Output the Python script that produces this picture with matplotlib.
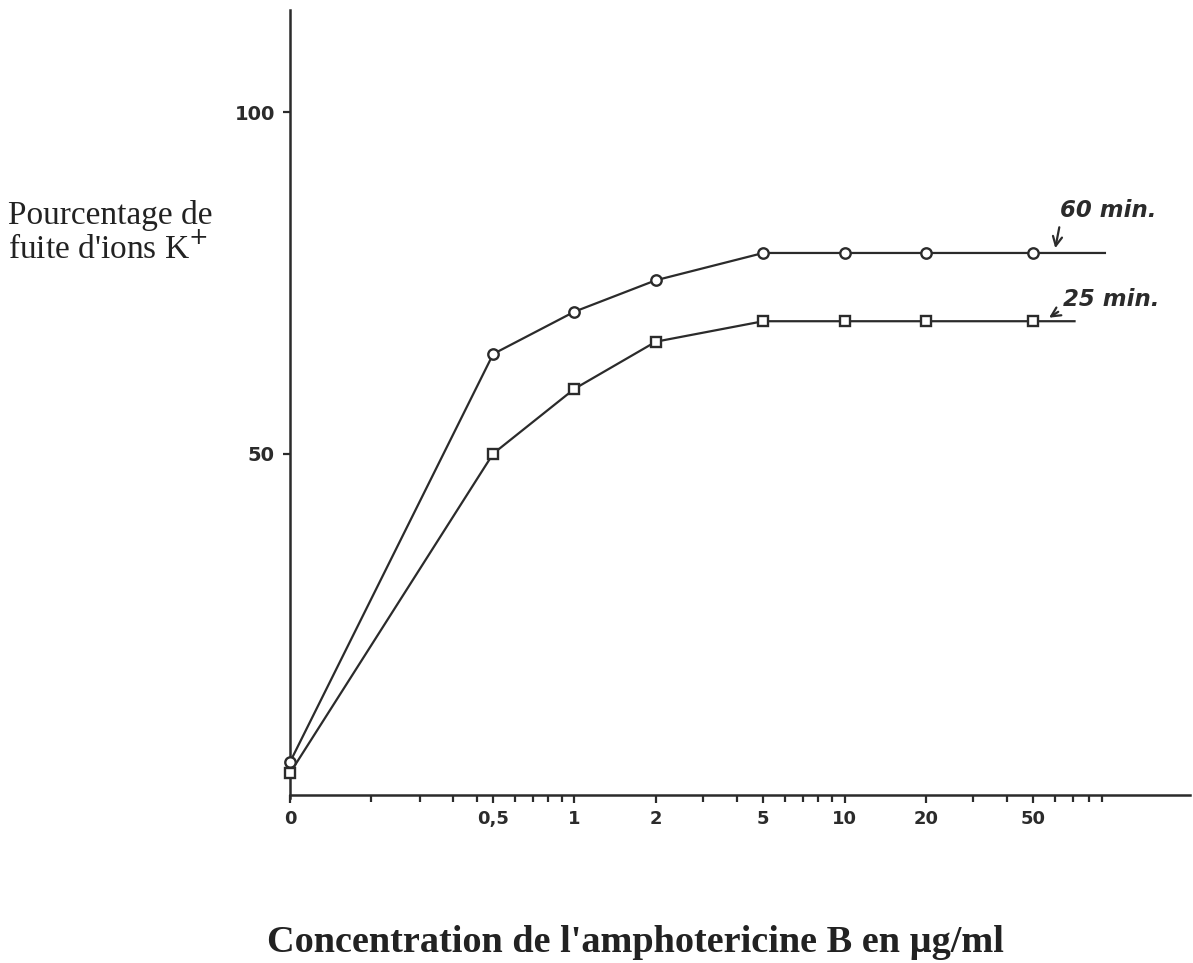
import numpy as np
import matplotlib
matplotlib.use('Agg')
import matplotlib.pyplot as plt

# concentration d'amphotericine B (ug/ml) et % de fuite K+
conc = [0, 0.5, 1, 2, 5, 10, 20, 50]
fuite_60 = [4.8, 64.6, 70.8, 75.4, 79.4, 79.4, 79.4, 79.4]
fuite_25 = [3.2, 50.0, 59.5, 66.4, 69.4, 69.4, 69.4, 69.4]
line_end_60 = 92
line_end_25 = 71

tick_vals = [0, 0.5, 1, 2, 5, 10, 20, 50]
tick_labels = ['0', '0,5', '1', '2', '5', '10', '20', '50']
minor_vals = [0.2, 0.32, 0.4, 0.46, 0.6, 0.7, 0.8, 0.9, 3, 4, 6, 7, 8, 9, 30, 40, 60, 70, 80, 90]

ink = '#2b2b2b'

fig = plt.figure(figsize=(11.93, 9.63), dpi=100)
ax = fig.add_axes([290 / 1193, (963 - 829) / 963, 900 / 1193, (829 - 10) / 963])

ax.set_xscale('symlog', linthresh=0.5, linscale=0.677)
ax.set_xlim(0, 190)
ax.set_ylim(-5, 115)

# courbes
ax.plot(conc + [line_end_60], fuite_60 + [fuite_60[-1]], color=ink, lw=1.6, zorder=2)
ax.plot(conc, fuite_60, 'o', ms=7.5, mfc='white', mec=ink, mew=1.7, zorder=3, clip_on=False)
ax.plot(conc + [line_end_25], fuite_25 + [fuite_25[-1]], color=ink, lw=1.6, zorder=2)
ax.plot(conc, fuite_25, 's', ms=7, mfc='white', mec=ink, mew=1.7, zorder=3, clip_on=False)

# axes
for s in ['top', 'right']:
    ax.spines[s].set_visible(False)
ax.spines['bottom'].set_position(('data', 0))
ax.spines['left'].set_bounds(-0.5, 115)
ax.spines['left'].set_linewidth(1.8)
ax.spines['bottom'].set_linewidth(1.8)
ax.spines['left'].set_color(ink)
ax.spines['bottom'].set_color(ink)

ax.set_xticks(tick_vals)
ax.set_xticklabels(tick_labels, fontsize=13, fontweight='bold', color=ink)
ax.set_xticks(minor_vals, minor=True)
ax.tick_params(axis='x', which='major', direction='out', length=6, width=1.6, color=ink, pad=5)
ax.tick_params(axis='x', which='minor', direction='out', length=5, width=1.6, color=ink)

ax.set_yticks([50, 100])
ax.set_yticklabels(['50', '100'], fontsize=14, fontweight='bold', color=ink)
ax.tick_params(axis='y', which='major', direction='out', length=5, width=1.6, color=ink, pad=6)
ax.yaxis.set_minor_locator(matplotlib.ticker.NullLocator())

# textes
fig.text(8 / 1193, 1 - 233 / 963, "Pourcentage de\nfuite d'ions K$^{+}$",
         family='Liberation Serif', fontsize=24, ha='left', va='center', linespacing=1.1,
         color='#222222')
fig.text(635 / 1193, 1 - 942 / 963, "Concentration de l'amphotericine B en µg/ml",
         family='Liberation Serif', fontsize=27.5, fontweight='bold', ha='center', va='center',
         color='#222222')

ax.annotate('60 min.', xy=(60, fuite_60[-1] + 0.3), xytext=(4, 21), textcoords='offset points',
            fontsize=16.5, fontstyle='italic', fontweight='bold', color=ink, ha='left', va='bottom',
            arrowprops=dict(arrowstyle='->', color=ink, lw=1.6, relpos=(0, 0)))
ax.annotate('25 min.', xy=(56, fuite_25[-1] + 0.3), xytext=(12, 6), textcoords='offset points',
            fontsize=16.5, fontstyle='italic', fontweight='bold', color=ink, ha='left', va='bottom',
            arrowprops=dict(arrowstyle='->', color=ink, lw=1.6, relpos=(0, 0.1)))

fig.savefig('out.png', dpi=100, facecolor='white')
